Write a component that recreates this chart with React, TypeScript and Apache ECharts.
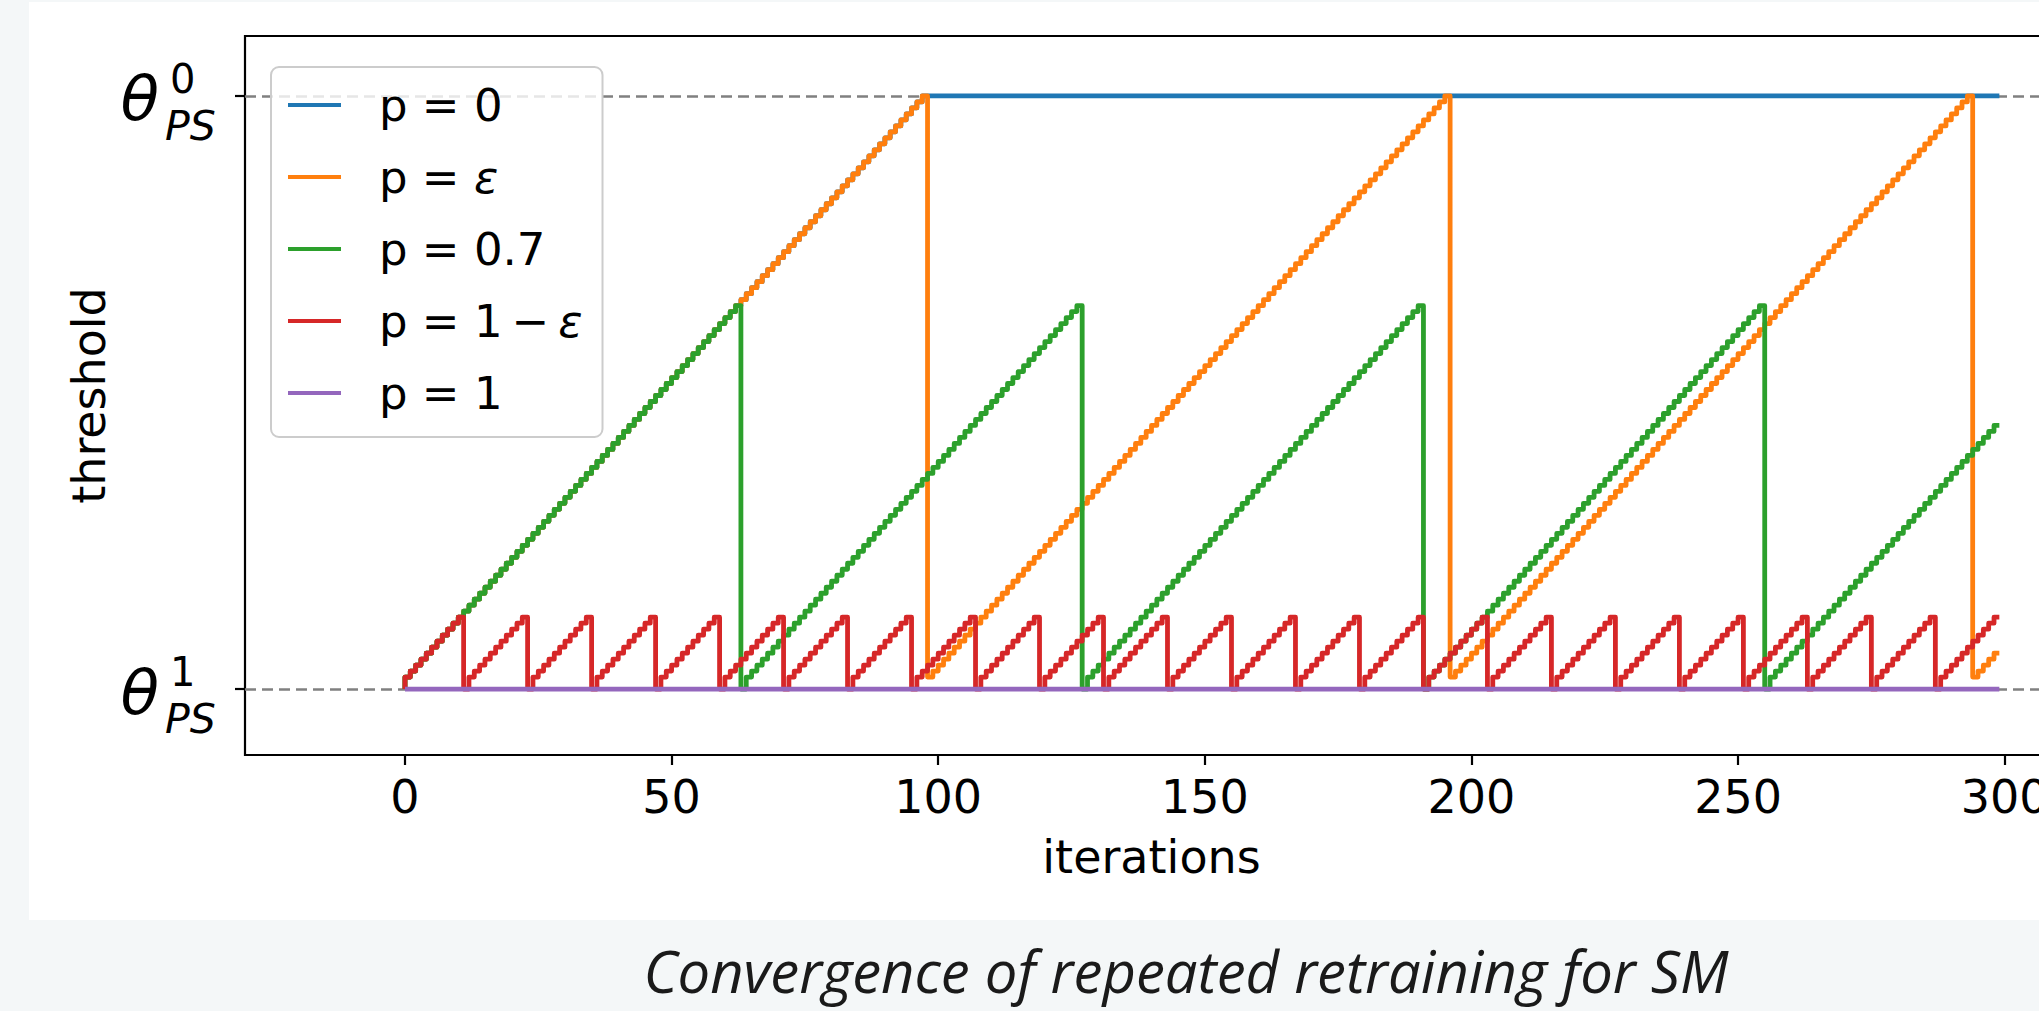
import React, { useEffect, useRef } from "react";
import * as echarts from "echarts";

// ---- axis ticks / labels ----
const iterationTicks = [0, 50, 100, 150, 200, 250, 300];
// threshold values expressed in "update steps" above θ¹_PS (θ¹_PS = 0, θ⁰_PS = 99)
const thresholdTicks = [0, 99];
const thetaLabels = [
  { value: 99, sup: "0", sub: "PS" },
  { value: 0, sup: "1", sub: "PS" },
];
const xRange = [-30, 310];
const yRange = [-11, 109];

const seriesNames = ["p = 0", "p = ε", "p = 0.7", "p = 1\u2009−\u2009ε", "p = 1"];
const seriesColors = ["#1f77b4", "#ff7f0e", "#2ca02c", "#d62728", "#9467bd"];
const xAxisName = "iterations";
const yAxisName = "threshold";
const caption = "Convergence of repeated retraining for SM";

// ---- series values, one value per iteration 0..299 ----
const thresholdP0 = [
  0, 2, 3, 4, 5, 6, 7, 8, 9, 10, 11, 12, 13, 14, 15, 16, 17, 18, 19, 20,
  21, 22, 23, 24, 25, 26, 27, 28, 29, 30, 31, 32, 33, 34, 35, 36, 37, 38, 39, 40,
  41, 42, 43, 44, 45, 46, 47, 48, 49, 50, 51, 52, 53, 54, 55, 56, 57, 58, 59, 60,
  61, 62, 63, 64, 65, 66, 67, 68, 69, 70, 71, 72, 73, 74, 75, 76, 77, 78, 79, 80,
  81, 82, 83, 84, 85, 86, 87, 88, 89, 90, 91, 92, 93, 94, 95, 96, 97, 98, 99,
  99, 99, 99, 99, 99, 99, 99, 99, 99, 99, 99, 99, 99, 99, 99, 99, 99, 99, 99, 99,
  99, 99, 99, 99, 99, 99, 99, 99, 99, 99, 99, 99, 99, 99, 99, 99, 99, 99, 99, 99,
  99, 99, 99, 99, 99, 99, 99, 99, 99, 99, 99, 99, 99, 99, 99, 99, 99, 99, 99, 99,
  99, 99, 99, 99, 99, 99, 99, 99, 99, 99, 99, 99, 99, 99, 99, 99, 99, 99, 99, 99,
  99, 99, 99, 99, 99, 99, 99, 99, 99, 99, 99, 99, 99, 99, 99, 99, 99, 99, 99, 99,
  99, 99, 99, 99, 99, 99, 99, 99, 99, 99, 99, 99, 99, 99, 99, 99, 99, 99, 99, 99,
  99, 99, 99, 99, 99, 99, 99, 99, 99, 99, 99, 99, 99, 99, 99, 99, 99, 99, 99, 99,
  99, 99, 99, 99, 99, 99, 99, 99, 99, 99, 99, 99, 99, 99, 99, 99, 99, 99, 99, 99,
  99, 99, 99, 99, 99, 99, 99, 99, 99, 99, 99, 99, 99, 99, 99, 99, 99, 99, 99, 99,
  99, 99, 99, 99, 99, 99, 99, 99, 99, 99, 99, 99, 99, 99, 99, 99, 99, 99, 99, 99,
  99,
];

const thresholdPEps = [
  0, 2, 3, 4, 5, 6, 7, 8, 9, 10, 11, 12, 13, 14, 15, 16, 17, 18, 19, 20,
  21, 22, 23, 24, 25, 26, 27, 28, 29, 30, 31, 32, 33, 34, 35, 36, 37, 38, 39, 40,
  41, 42, 43, 44, 45, 46, 47, 48, 49, 50, 51, 52, 53, 54, 55, 56, 57, 58, 59, 60,
  61, 62, 63, 64, 65, 66, 67, 68, 69, 70, 71, 72, 73, 74, 75, 76, 77, 78, 79, 80,
  81, 82, 83, 84, 85, 86, 87, 88, 89, 90, 91, 92, 93, 94, 95, 96, 97, 98, 99,
  2, 3, 4, 5, 6, 7, 8, 9, 10, 11, 12, 13, 14, 15, 16, 17, 18, 19, 20, 21,
  22, 23, 24, 25, 26, 27, 28, 29, 30, 31, 32, 33, 34, 35, 36, 37, 38, 39, 40, 41,
  42, 43, 44, 45, 46, 47, 48, 49, 50, 51, 52, 53, 54, 55, 56, 57, 58, 59, 60, 61,
  62, 63, 64, 65, 66, 67, 68, 69, 70, 71, 72, 73, 74, 75, 76, 77, 78, 79, 80, 81,
  82, 83, 84, 85, 86, 87, 88, 89, 90, 91, 92, 93, 94, 95, 96, 97, 98, 99,
  2, 3, 4, 5, 6, 7, 8, 9, 10, 11, 12, 13, 14, 15, 16, 17, 18, 19, 20, 21,
  22, 23, 24, 25, 26, 27, 28, 29, 30, 31, 32, 33, 34, 35, 36, 37, 38, 39, 40, 41,
  42, 43, 44, 45, 46, 47, 48, 49, 50, 51, 52, 53, 54, 55, 56, 57, 58, 59, 60, 61,
  62, 63, 64, 65, 66, 67, 68, 69, 70, 71, 72, 73, 74, 75, 76, 77, 78, 79, 80, 81,
  82, 83, 84, 85, 86, 87, 88, 89, 90, 91, 92, 93, 94, 95, 96, 97, 98, 99,
  2, 3, 4, 5, 6,
];

const thresholdP07 = [
  0, 2, 3, 4, 5, 6, 7, 8, 9, 10, 11, 12, 13, 14, 15, 16, 17, 18, 19, 20,
  21, 22, 23, 24, 25, 26, 27, 28, 29, 30, 31, 32, 33, 34, 35, 36, 37, 38, 39, 40,
  41, 42, 43, 44, 45, 46, 47, 48, 49, 50, 51, 52, 53, 54, 55, 56, 57, 58, 59, 60,
  61, 62, 63, 64,
  0, 2, 3, 4, 5, 6, 7, 8, 9, 10, 11, 12, 13, 14, 15, 16, 17, 18, 19, 20,
  21, 22, 23, 24, 25, 26, 27, 28, 29, 30, 31, 32, 33, 34, 35, 36, 37, 38, 39, 40,
  41, 42, 43, 44, 45, 46, 47, 48, 49, 50, 51, 52, 53, 54, 55, 56, 57, 58, 59, 60,
  61, 62, 63, 64,
  0, 2, 3, 4, 5, 6, 7, 8, 9, 10, 11, 12, 13, 14, 15, 16, 17, 18, 19, 20,
  21, 22, 23, 24, 25, 26, 27, 28, 29, 30, 31, 32, 33, 34, 35, 36, 37, 38, 39, 40,
  41, 42, 43, 44, 45, 46, 47, 48, 49, 50, 51, 52, 53, 54, 55, 56, 57, 58, 59, 60,
  61, 62, 63, 64,
  0, 2, 3, 4, 5, 6, 7, 8, 9, 10, 11, 12, 13, 14, 15, 16, 17, 18, 19, 20,
  21, 22, 23, 24, 25, 26, 27, 28, 29, 30, 31, 32, 33, 34, 35, 36, 37, 38, 39, 40,
  41, 42, 43, 44, 45, 46, 47, 48, 49, 50, 51, 52, 53, 54, 55, 56, 57, 58, 59, 60,
  61, 62, 63, 64,
  0, 2, 3, 4, 5, 6, 7, 8, 9, 10, 11, 12, 13, 14, 15, 16, 17, 18, 19, 20,
  21, 22, 23, 24, 25, 26, 27, 28, 29, 30, 31, 32, 33, 34, 35, 36, 37, 38, 39, 40,
  41, 42, 43, 44,
];

const thresholdP1MinusEps = [
  0, 2, 3, 4, 5, 6, 7, 8, 9, 10, 11, 12,
  0, 2, 3, 4, 5, 6, 7, 8, 9, 10, 11, 12,
  0, 2, 3, 4, 5, 6, 7, 8, 9, 10, 11, 12,
  0, 2, 3, 4, 5, 6, 7, 8, 9, 10, 11, 12,
  0, 2, 3, 4, 5, 6, 7, 8, 9, 10, 11, 12,
  0, 2, 3, 4, 5, 6, 7, 8, 9, 10, 11, 12,
  0, 2, 3, 4, 5, 6, 7, 8, 9, 10, 11, 12,
  0, 2, 3, 4, 5, 6, 7, 8, 9, 10, 11, 12,
  0, 2, 3, 4, 5, 6, 7, 8, 9, 10, 11, 12,
  0, 2, 3, 4, 5, 6, 7, 8, 9, 10, 11, 12,
  0, 2, 3, 4, 5, 6, 7, 8, 9, 10, 11, 12,
  0, 2, 3, 4, 5, 6, 7, 8, 9, 10, 11, 12,
  0, 2, 3, 4, 5, 6, 7, 8, 9, 10, 11, 12,
  0, 2, 3, 4, 5, 6, 7, 8, 9, 10, 11, 12,
  0, 2, 3, 4, 5, 6, 7, 8, 9, 10, 11, 12,
  0, 2, 3, 4, 5, 6, 7, 8, 9, 10, 11, 12,
  0, 2, 3, 4, 5, 6, 7, 8, 9, 10, 11, 12,
  0, 2, 3, 4, 5, 6, 7, 8, 9, 10, 11, 12,
  0, 2, 3, 4, 5, 6, 7, 8, 9, 10, 11, 12,
  0, 2, 3, 4, 5, 6, 7, 8, 9, 10, 11, 12,
  0, 2, 3, 4, 5, 6, 7, 8, 9, 10, 11, 12,
  0, 2, 3, 4, 5, 6, 7, 8, 9, 10, 11, 12,
  0, 2, 3, 4, 5, 6, 7, 8, 9, 10, 11, 12,
  0, 2, 3, 4, 5, 6, 7, 8, 9, 10, 11, 12,
  0, 2, 3, 4, 5, 6, 7, 8, 9, 10, 11, 12,
];

const thresholdP1 = [
  0, 0, 0, 0, 0, 0, 0, 0, 0, 0, 0, 0, 0, 0, 0, 0, 0, 0, 0, 0,
  0, 0, 0, 0, 0, 0, 0, 0, 0, 0, 0, 0, 0, 0, 0, 0, 0, 0, 0, 0,
  0, 0, 0, 0, 0, 0, 0, 0, 0, 0, 0, 0, 0, 0, 0, 0, 0, 0, 0, 0,
  0, 0, 0, 0, 0, 0, 0, 0, 0, 0, 0, 0, 0, 0, 0, 0, 0, 0, 0, 0,
  0, 0, 0, 0, 0, 0, 0, 0, 0, 0, 0, 0, 0, 0, 0, 0, 0, 0, 0, 0,
  0, 0, 0, 0, 0, 0, 0, 0, 0, 0, 0, 0, 0, 0, 0, 0, 0, 0, 0, 0,
  0, 0, 0, 0, 0, 0, 0, 0, 0, 0, 0, 0, 0, 0, 0, 0, 0, 0, 0, 0,
  0, 0, 0, 0, 0, 0, 0, 0, 0, 0, 0, 0, 0, 0, 0, 0, 0, 0, 0, 0,
  0, 0, 0, 0, 0, 0, 0, 0, 0, 0, 0, 0, 0, 0, 0, 0, 0, 0, 0, 0,
  0, 0, 0, 0, 0, 0, 0, 0, 0, 0, 0, 0, 0, 0, 0, 0, 0, 0, 0, 0,
  0, 0, 0, 0, 0, 0, 0, 0, 0, 0, 0, 0, 0, 0, 0, 0, 0, 0, 0, 0,
  0, 0, 0, 0, 0, 0, 0, 0, 0, 0, 0, 0, 0, 0, 0, 0, 0, 0, 0, 0,
  0, 0, 0, 0, 0, 0, 0, 0, 0, 0, 0, 0, 0, 0, 0, 0, 0, 0, 0, 0,
  0, 0, 0, 0, 0, 0, 0, 0, 0, 0, 0, 0, 0, 0, 0, 0, 0, 0, 0, 0,
  0, 0, 0, 0, 0, 0, 0, 0, 0, 0, 0, 0, 0, 0, 0, 0, 0, 0, 0, 0,
];

const FONT = "DejaVu Sans";

export default function App() {
  const ref = useRef<HTMLDivElement>(null);

  useEffect(() => {
    if (!ref.current) return;
    const chart = echarts.init(ref.current, undefined, { renderer: "svg" });
    const allSeries = [thresholdP0, thresholdPEps, thresholdP07, thresholdP1MinusEps, thresholdP1];

    chart.setOption({
      animation: false,
      grid: {
        left: 245,
        top: 36,
        width: 1813,
        height: 719,
        show: true,
        borderColor: "#000",
        borderWidth: 2.2,
        backgroundColor: "transparent",
      },
      xAxis: {
        type: "value",
        min: xRange[0],
        max: xRange[1],
        name: xAxisName,
        nameLocation: "middle",
        nameGap: 79,
        nameTextStyle: { fontSize: 46, fontFamily: FONT, color: "#000" },
        axisLine: { show: false, onZero: false },
        axisTick: {
          show: true,
          inside: false,
          length: 10,
          lineStyle: { color: "#000", width: 2.2 },
          customValues: iterationTicks,
        },
        axisLabel: {
          customValues: iterationTicks,
          fontSize: 46,
          fontFamily: FONT,
          color: "#000",
          margin: 19,
        },
        splitLine: { show: false },
      },
      yAxis: {
        type: "value",
        min: yRange[0],
        max: yRange[1],
        name: yAxisName,
        nameLocation: "middle",
        nameRotate: 90,
        nameGap: 133,
        nameTextStyle: { fontSize: 46, fontFamily: FONT, color: "#000" },
        axisLine: { show: false, onZero: false },
        axisTick: {
          show: true,
          inside: false,
          length: 10,
          lineStyle: { color: "#000", width: 2.2 },
          customValues: thresholdTicks,
        },
        axisLabel: { show: false },
        splitLine: { show: false },
      },
      legend: {
        orient: "vertical",
        left: 271,
        top: 67,
        padding: [13, 20, 19, 17],
        itemGap: 22,
        itemWidth: 53,
        itemHeight: 4,
        icon: "rect",
        selectedMode: false,
        backgroundColor: "rgba(255,255,255,0.8)",
        borderColor: "#cccccc",
        borderWidth: 2,
        borderRadius: 8,
        data: seriesNames,
        formatter: (name: string) => name.replace("ε", "{e|ε}"),
        textStyle: {
          fontSize: 45,
          fontFamily: FONT,
          color: "#000",
          lineHeight: 50,
          padding: [0, 0, 0, 33],
          rich: {
            e: { fontSize: 45, fontFamily: FONT, fontStyle: "italic", color: "#000", lineHeight: 50 },
          },
        },
      },
      series: allSeries.map((vals, i) => ({
        name: seriesNames[i],
        type: "line",
        step: "start",
        showSymbol: false,
        symbol: "none",
        silent: true,
        emphasis: { disabled: true },
        data: vals.map((v, t) => [t, v]),
        color: seriesColors[i],
        lineStyle: { color: seriesColors[i], width: 4.8, join: "round" },
        markLine:
          i === 0
            ? {
                z: 1,
                silent: true,
                symbol: ["none", "none"],
                label: { show: false },
                lineStyle: { type: [11, 6], color: "#808080", width: 2.6 },
                data: thresholdTicks.map((v) => ({ yAxis: v })),
              }
            : undefined,
      })),
    });

    const xLeft = chart.convertToPixel({ xAxisIndex: 0 }, xRange[0]) as number;
    const graphics: any[] = [];
    thetaLabels.forEach((l) => {
      const y = chart.convertToPixel({ yAxisIndex: 0 }, l.value) as number;
      graphics.push(
        {
          type: "text",
          x: xLeft - 86,
          y: y + 3,
          style: {
            text: "θ",
            fontSize: 63,
            fontFamily: FONT,
            fontStyle: "italic",
            fill: "#000",
            align: "right",
            verticalAlign: "middle",
            lineHeight: 50,
          },
        },
        {
          type: "text",
          x: xLeft - 75,
          y: y - 17,
          style: {
            text: l.sup,
            fontSize: 40,
            fontFamily: FONT,
            fill: "#000",
            align: "left",
            verticalAlign: "middle",
            lineHeight: 32,
          },
        },
        {
          type: "text",
          x: xLeft - 80,
          y: y + 30,
          style: {
            text: l.sub,
            fontSize: 41,
            fontFamily: FONT,
            fontStyle: "italic",
            fill: "#000",
            align: "left",
            verticalAlign: "middle",
            lineHeight: 34,
          },
        }
      );
    });
    graphics.push({
      type: "text",
      x: 1186,
      y: 970,
      style: {
        text: caption,
        fontSize: 58,
        fontFamily: "Open Sans",
        fontStyle: "italic",
        fill: "#1a1a1a",
        align: "center",
        verticalAlign: "middle",
        lineHeight: 60,
      },
    });
    chart.setOption({ graphic: graphics });

    return () => chart.dispose();
  }, []);

  return (
    <div
      style={{
        position: "fixed",
        left: 0,
        top: 0,
        width: "100vw",
        height: "100vh",
        overflow: "hidden",
        background: "#f4f7f8",
      }}
    >
      <div
        style={{ position: "absolute", left: 29, top: 2, width: 2400, height: 918, background: "#ffffff" }}
      />
      <div ref={ref} style={{ position: "absolute", left: 0, top: 0, width: 2200, height: 1011 }} />
    </div>
  );
}
